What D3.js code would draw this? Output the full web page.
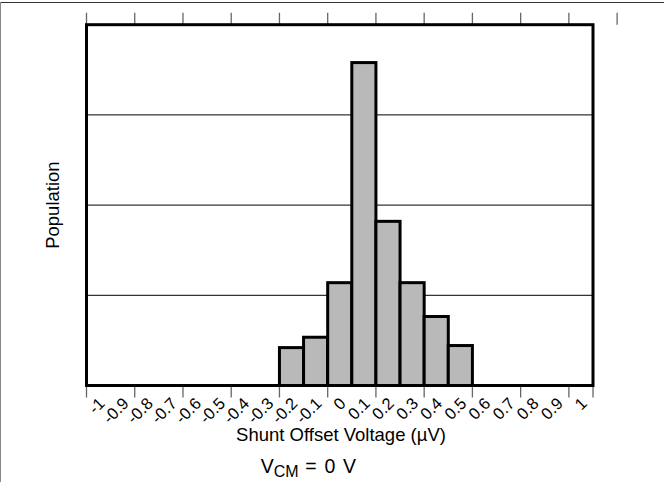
<!DOCTYPE html>
<html>
<head>
<meta charset="utf-8">
<script src="https://cdn.jsdelivr.net/npm/d3@7"></script>
<style>
  html, body { margin: 0; padding: 0; background: #fff; }
  svg { display: block; font-family: "Liberation Sans", Arial, sans-serif; }
</style>
</head>
<body>
<svg id="chart" width="664" height="482"></svg>
<script>
// ---- data ----
const categories = ["-1","-0.9","-0.8","-0.7","-0.6","-0.5","-0.4","-0.3","-0.2","-0.1",
                    "0","0.1","0.2","0.3","0.4","0.5","0.6","0.7","0.8","0.9","1"];
const population = [0,0,0,0,0,0,0,0,4.2,5.35,11.4,35.8,18.2,11.4,7.65,4.43,0,0,0,0,0];
const gridValues = [10, 20, 30];
const yMax = 40;
const xTitle = "Shunt Offset Voltage (µV)";
const yTitle = "Population";

// ---- layout ----
const mLeft = 86.5, mRight = 593, mTop = 24.7, mBottom = 385.5;
const svg = d3.select("#chart");

// outer frame (top + left)
svg.append("line").attr("x1", 0).attr("x2", 664).attr("y1", 2.5).attr("y2", 2.5)
  .attr("stroke", "#333").attr("stroke-width", 1);
svg.append("line").attr("x1", 0.5).attr("x2", 0.5).attr("y1", 2).attr("y2", 482)
  .attr("stroke", "#888").attr("stroke-width", 1);

const x = d3.scaleBand().domain(categories).range([mLeft, mRight]).padding(0);
const y = d3.scaleLinear().domain([0, yMax]).range([mBottom, mTop]);
const step = x.step();

// gridlines
svg.append("g").selectAll("line").data(gridValues).join("line")
  .attr("x1", mLeft).attr("x2", mRight)
  .attr("y1", d => y(d)).attr("y2", d => y(d))
  .attr("stroke", "#000").attr("stroke-width", 1);

// bars
const data = categories.map((c, i) => ({c, v: population[i]})).filter(d => d.v > 0);
svg.append("g").selectAll("rect").data(data).join("rect")
  .attr("x", d => x(d.c)).attr("width", x.bandwidth())
  .attr("y", d => y(d.v)).attr("height", d => y(0) - y(d.v))
  .attr("fill", "#b9b9b9").attr("stroke", "#000").attr("stroke-width", 3);

// tick marks: bottom at every other band boundary + right edge
const bottomTicks = d3.range(0, categories.length + 1, 2).map(i => mLeft + i * step).concat([mRight]);
svg.append("g").selectAll("line").data(bottomTicks).join("line")
  .attr("x1", d => d).attr("x2", d => d)
  .attr("y1", mBottom).attr("y2", mBottom + 12)
  .attr("stroke", "#666").attr("stroke-width", 1.3);

// top ticks (every other band boundary, extending one beyond)
const topTicks = d3.range(0, categories.length + 3, 2).map(i => mLeft + i * step);
svg.append("g").selectAll("line").data(topTicks).join("line")
  .attr("x1", d => d).attr("x2", d => d)
  .attr("y1", mTop - 12).attr("y2", mTop)
  .attr("stroke", "#666").attr("stroke-width", 1.3);

// plot frame
svg.append("rect").attr("x", mLeft).attr("y", mTop)
  .attr("width", mRight - mLeft).attr("height", mBottom - mTop)
  .attr("fill", "none").attr("stroke", "#000").attr("stroke-width", 3);

// tick labels rotated
svg.append("g").selectAll("text").data(categories).join("text")
  .attr("transform", d => `translate(${x(d) + step / 2 + 3},${mBottom + 15}) rotate(-45)`)
  .attr("text-anchor", "end")
  .attr("dy", "0.35em")
  .attr("font-size", 16.5)
  .attr("fill", "#000")
  .text(d => d);

// axis titles
svg.append("text").attr("x", 341).attr("y", 441)
  .attr("text-anchor", "middle").attr("font-size", 18.5).text(xTitle);

svg.append("text").attr("transform", `translate(59,${(mTop + mBottom) / 2}) rotate(-90)`)
  .attr("text-anchor", "middle").attr("font-size", 18.5).text(yTitle);

// condition note
const note = svg.append("text").attr("x", 309).attr("y", 473)
  .attr("text-anchor", "middle").attr("font-size", 19.5);
note.append("tspan").text("V");
note.append("tspan").attr("font-size", 16).attr("dy", 4).text("CM");
note.append("tspan").attr("dy", -4).attr("letter-spacing", 1.2).text(" = 0 V");
</script>
</body>
</html>
